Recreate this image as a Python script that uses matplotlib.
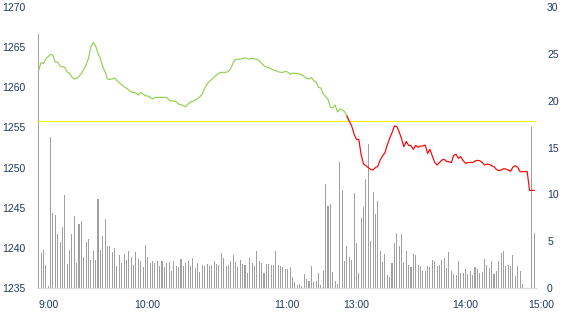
"""Intraday price line (green above prev close, red below) over minute volume bars."""
import numpy as np
import matplotlib
matplotlib.use("Agg")
import matplotlib.pyplot as plt

# price per bar
price = [
    1262.15, 1263.06, 1262.98, 1263.52, 1263.81, 1264.10, 1263.97, 1263.14, 1263.14, 1262.65,
    1262.56, 1262.48, 1261.90, 1261.73, 1261.28, 1261.03, 1261.11, 1261.36, 1261.73, 1262.23,
    1262.81, 1263.60, 1265.05, 1265.59, 1265.14, 1264.22, 1263.60, 1262.56, 1261.94, 1261.03,
    1260.99, 1261.03, 1261.15, 1260.82, 1260.57, 1260.32, 1260.07, 1259.87, 1259.66, 1259.41,
    1259.37, 1259.28, 1259.03, 1259.37, 1259.16, 1258.95, 1258.91, 1258.74, 1258.54, 1258.74,
    1258.74, 1258.74, 1258.74, 1258.74, 1258.74, 1258.41, 1258.29, 1258.29, 1258.20, 1257.91,
    1257.83, 1257.71, 1257.58, 1257.91, 1258.20, 1258.25, 1258.37, 1258.58, 1258.83, 1259.16,
    1259.87, 1260.40, 1260.74, 1260.99, 1261.28, 1261.53, 1261.77, 1261.86, 1261.86, 1261.86,
    1261.98, 1262.36, 1263.06, 1263.48, 1263.48, 1263.52, 1263.56, 1263.68, 1263.56, 1263.52,
    1263.60, 1263.52, 1263.48, 1263.31, 1262.98, 1262.69, 1262.52, 1262.44, 1262.31, 1262.15,
    1262.07, 1261.94, 1261.86, 1261.86, 1261.98, 1261.90, 1261.61, 1261.77, 1261.73, 1261.73,
    1261.65, 1261.53, 1261.32, 1261.11, 1261.03, 1261.23, 1260.82, 1260.65, 1259.99, 1259.91,
    1259.16, 1258.83, 1258.50, 1257.54, 1257.42, 1257.79, 1256.92, 1257.29, 1257.17, 1256.96,
    1256.42, 1255.76, 1255.17, 1254.18, 1253.51, 1253.51, 1251.56, 1250.44, 1250.23, 1249.99,
    1249.78, 1249.69, 1249.99, 1250.15, 1250.94, 1251.44, 1251.85, 1252.81, 1253.64, 1254.34,
    1255.17, 1255.13, 1254.47, 1253.60, 1252.60, 1253.26, 1252.77, 1252.73, 1252.27, 1252.77,
    1252.52, 1252.68, 1252.68, 1252.81, 1251.77, 1252.27, 1251.44, 1250.65, 1250.32, 1250.61,
    1250.94, 1251.02, 1250.77, 1250.73, 1250.61, 1251.52, 1251.65, 1251.15, 1251.36, 1250.86,
    1250.53, 1250.61, 1250.65, 1250.61, 1250.82, 1250.90, 1250.86, 1250.65, 1250.32, 1250.44,
    1250.40, 1250.23, 1250.11, 1249.78, 1249.61, 1249.69, 1249.86, 1249.82, 1249.69, 1249.53,
    1250.07, 1250.23, 1250.03, 1249.49, 1249.49, 1249.49, 1249.49, 1247.16, 1247.16, 1247.16,
]

volume = [
    27.1, 3.7, 4.1, 2.5, 0.25, 16.1, 8.0, 7.8, 5.8, 4.9,
    6.5, 9.9, 2.6, 4.1, 5.8, 7.7, 2.7, 6.8, 7.2, 3.3,
    4.9, 5.2, 3.0, 3.9, 3.0, 9.5, 4.1, 5.6, 7.4, 4.5,
    4.5, 3.8, 4.3, 2.3, 3.5, 2.7, 3.6, 3.0, 4.0, 3.3,
    2.5, 3.8, 3.1, 2.9, 2.2, 4.6, 3.3, 2.7, 2.9, 2.7,
    2.9, 2.3, 2.9, 2.2, 2.7, 2.8, 1.85, 2.9, 2.4, 2.2,
    3.1, 2.4, 2.7, 2.9, 2.3, 3.2, 2.1, 2.7, 1.7, 2.5,
    2.4, 2.6, 2.3, 2.5, 2.9, 2.6, 2.5, 3.7, 3.2, 2.4,
    2.5, 2.9, 3.5, 2.8, 2.2, 3.0, 2.6, 2.5, 1.6, 3.2,
    2.7, 2.3, 4.0, 2.9, 2.7, 1.6, 2.6, 2.6, 2.5, 2.5,
    3.9, 2.5, 2.4, 2.2, 2.0, 2.0, 2.2, 1.2, 0.6, 0.35,
    0.45, 0.25, 1.5, 1.0, 0.7, 2.4, 0.6, 0.8, 1.6, 0.35,
    1.85, 11.1, 8.8, 9.0, 1.7, 0.8, 0.45, 13.4, 10.5, 2.9,
    4.5, 3.3, 3.0, 10.1, 4.8, 1.6, 7.5, 8.6, 11.6, 15.4,
    5.05, 10.3, 7.9, 9.3, 3.9, 2.8, 3.6, 1.4, 1.2, 2.7,
    4.8, 5.9, 4.5, 5.8, 2.7, 4.0, 2.5, 2.2, 3.6, 3.5,
    2.5, 2.4, 1.85, 1.85, 2.4, 2.2, 3.0, 2.9, 2.3, 2.5,
    3.0, 3.2, 2.1, 3.8, 1.85, 1.5, 1.4, 2.9, 1.6, 1.6,
    2.0, 1.5, 1.85, 1.4, 2.2, 2.0, 1.6, 1.7, 3.1, 2.5,
    2.1, 2.9, 1.5, 1.85, 2.9, 3.7, 3.9, 2.3, 2.5, 2.3,
    3.5, 1.3, 2.4, 1.85, 0.45, 0.0, 0.0, 0.0, 17.2, 5.9,
]

prev_close = 1255.8
time_labels = ["9:00", "10:00", "11:00", "13:00", "14:00", "15:00"]
time_pos = [4.3, 45.7, 104.7, 133.8, 179.8, 211.9]

TXT = "#1F3864"
plt.rcParams["font.family"] = ["Liberation Sans", "DejaVu Sans"]

x = np.arange(len(price))
p = np.array(price)
cut = int(np.argmax(p < prev_close))   # first bar under previous close

fig = plt.figure(figsize=(5.7, 3.3), dpi=100, facecolor="white")
ax = fig.add_axes([37 / 570, 42 / 330, 499 / 570, 281 / 330])
ax2 = ax.twinx()

ax2.bar(x, volume, width=0.45, color="#A0A0A0", linewidth=0)
ax2.set_ylim(0, 30)
ax2.set_yticks(range(0, 31, 5))

ax.axhline(prev_close, color="#F5F000", lw=0.8)
ax.plot(x[:cut + 1], p[:cut + 1], color="#92D050", lw=0.85)
ax.plot(x[cut - 1:], p[cut - 1:], color="#FF0000", lw=0.85)
ax.set_ylim(1235, 1270)
ax.set_yticks(range(1235, 1271, 5))
ax.set_xlim(-0.72, 209.72)
ax.set_xticks([])

ax.set_zorder(ax2.get_zorder() + 1)
ax.patch.set_visible(False)

for a in (ax, ax2):
    for s in ("top", "left", "right"):
        a.spines[s].set_visible(False)
    a.spines["bottom"].set_color("#D9D9D9")
    a.tick_params(length=0, labelsize=7.5, labelcolor=TXT, pad=8)

for lab, pos in zip(time_labels, time_pos):
    ax.text(pos, -0.06, lab, transform=ax.get_xaxis_transform(), ha="center", va="center",
            fontsize=7.5, color=TXT, clip_on=False)

fig.savefig("out.png", dpi=100)
